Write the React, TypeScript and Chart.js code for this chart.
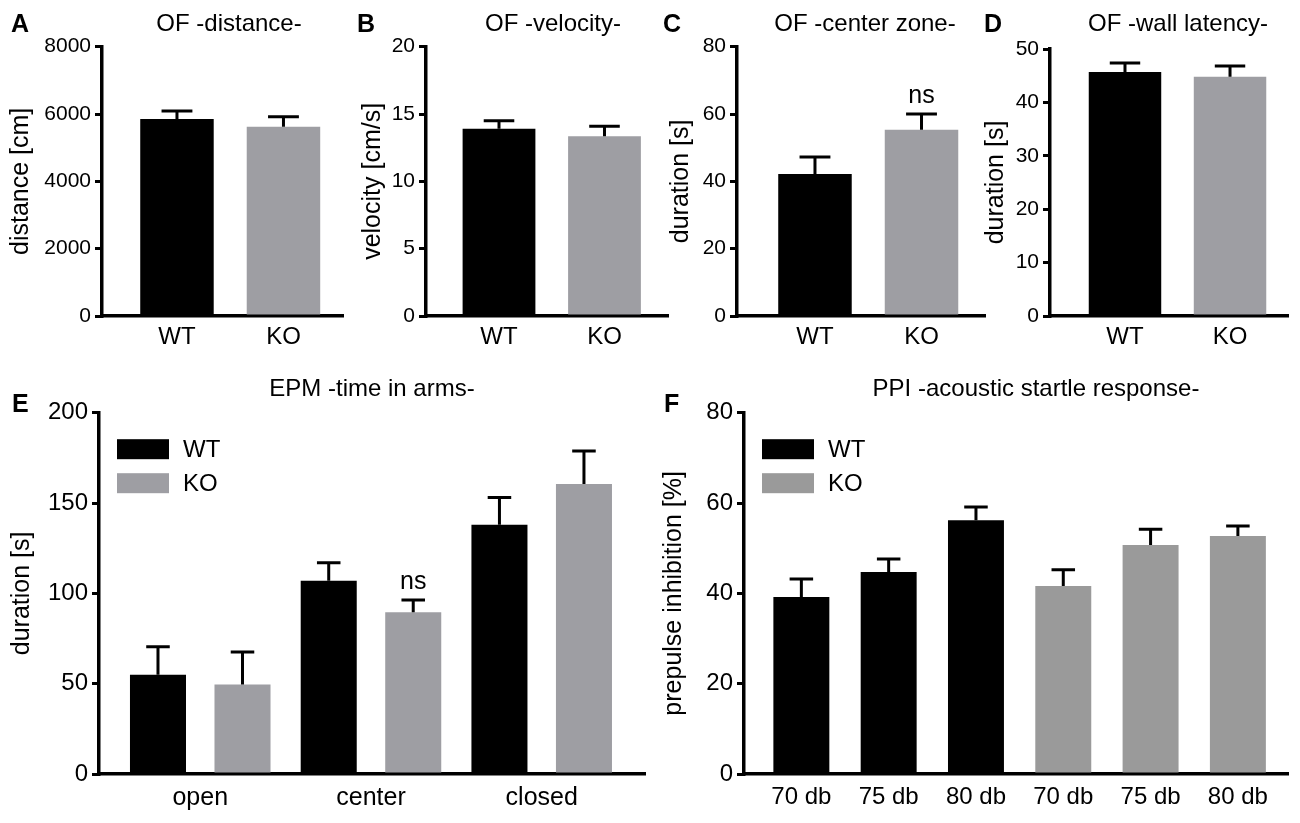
import { useEffect, useRef } from "react";
import { Chart, registerables } from "chart.js";

Chart.register(...registerables);

const FONT = "'Liberation Sans', Arial, Helvetica, sans-serif";
const BLACK = "#000000";
const GREY = "#9e9ea3";
const GREY_PPI = "#9a9a9a";

// open field, two genotypes
const genotypes = ["WT", "KO"];
const distanceMean = [5850, 5620];
const distanceSem = [240, 300];
const velocityMean = [13.9, 13.35];
const velocitySem = [0.6, 0.75];
const centerMean = [42.2, 55.3];
const centerSem = [5.0, 4.7];
const centerNotes = ["", "ns"];
const wallMean = [45.7, 44.8];
const wallSem = [1.7, 2.0];

// elevated plus maze
const arms = ["open", "center", "closed"];
const armsWT = [55, 107, 138];
const armsWTSem = [15.5, 10, 15];
const armsKO = [49.5, 89.5, 160.5];
const armsKOSem = [18, 6.8, 18.3];
const armsKONotes = ["", "ns", ""];

// prepulse inhibition
const prepulse = ["70 db", "75 db", "80 db", "70 db", "75 db", "80 db"];
const ppiWT = [39.2, 44.7, 56.2, null, null, null];
const ppiWTSem = [4.0, 2.9, 2.9, null, null, null];
const ppiKO = [null, null, null, 41.6, 50.7, 52.7];
const ppiKOSem = [null, null, null, 3.6, 3.5, 2.2];

// draws error bars, "ns" marks, panel letter, title and the inset legend
const decor = {
  id: "decor",
  afterDatasetsDraw(chart: any) {
    const ctx = chart.ctx;
    const y = chart.scales.y;
    ctx.save();
    chart.data.datasets.forEach((ds: any, di: number) => {
      const meta = chart.getDatasetMeta(di);
      meta.data.forEach((bar: any, i: number) => {
        const v = ds.data[i];
        const e = ds.errors ? ds.errors[i] : null;
        if (v == null || e == null) return;
        const yv = y.getPixelForValue(v);
        const ye = y.getPixelForValue(v + e);
        const cap = bar.width * 0.42;
        ctx.strokeStyle = BLACK;
        ctx.lineWidth = 3;
        ctx.beginPath();
        ctx.moveTo(bar.x, yv);
        ctx.lineTo(bar.x, ye);
        ctx.moveTo(bar.x - cap / 2, ye);
        ctx.lineTo(bar.x + cap / 2, ye);
        ctx.stroke();
        const note = ds.notes ? ds.notes[i] : "";
        if (note) {
          ctx.fillStyle = BLACK;
          ctx.font = `25px ${FONT}`;
          ctx.textAlign = "center";
          ctx.textBaseline = "alphabetic";
          ctx.fillText(note, bar.x, ye - 11);
        }
      });
    });
    ctx.restore();
  },
  afterDraw(chart: any, _args: any, opts: any) {
    const ctx = chart.ctx;
    const area = chart.chartArea;
    ctx.save();
    ctx.fillStyle = BLACK;
    ctx.textBaseline = "alphabetic";
    ctx.textAlign = "left";
    ctx.font = `bold 25px ${FONT}`;
    ctx.fillText(opts.letter, opts.letterX, opts.letterY);
    ctx.textAlign = "center";
    ctx.font = `24px ${FONT}`;
    ctx.fillText(opts.title, opts.titleX, opts.titleY);
    if (opts.legend) {
      chart.data.datasets.forEach((ds: any, i: number) => {
        const bx = area.left + 18;
        const by = area.top + 26.5 + i * 34;
        ctx.fillStyle = ds.backgroundColor;
        ctx.fillRect(bx, by, 52, 20);
        ctx.fillStyle = BLACK;
        ctx.font = `24px ${FONT}`;
        ctx.textAlign = "left";
        ctx.textBaseline = "middle";
        ctx.fillText(ds.label, bx + 66, by + 11);
      });
    }
    ctx.restore();
  },
};

type Spec = {
  letter: string;
  title: string;
  letterX: number;
  letterY: number;
  titleX: number;
  titleY: number;
  axisX: number;
  right: number;
  top: number;
  bottom: number;
  canvasTop: number;
  yTitleX: number;
  yTitle: string;
  yMax: number;
  yStep: number;
  yFont: number;
  xFont: number;
  xPad: number;
  xMin: number;
  xMax: number;
  categories: string[];
  datasets: any[];
  legend?: boolean;
};

function buildPanel(s: Spec) {
  const cx = s.yTitleX - 18;
  const cy = s.canvasTop;
  const yW = s.axisX - cx;
  const xH = 46;
  const box = { x: cx, y: cy, w: Math.round(s.right - cx + 8), h: Math.round(s.bottom - cy + xH) };
  const config: any = {
    type: "bar",
    data: {
      labels: s.categories.map((_, i) => i),
      datasets: s.datasets,
    },
    options: {
      responsive: false,
      animation: false,
      layout: { padding: { top: s.top - cy, right: 8, left: 0, bottom: 0 } },
      plugins: {
        legend: { display: false },
        tooltip: { enabled: false },
        decor: {
          letter: s.letter,
          title: s.title,
          letterX: s.letterX - cx,
          letterY: s.letterY - cy,
          titleX: s.titleX - cx,
          titleY: s.titleY - cy,
          legend: !!s.legend,
        },
      },
      scales: {
        x: {
          type: "linear",
          offset: false,
          min: s.xMin,
          max: s.xMax,
          afterBuildTicks: (sc: any) => {
            sc.ticks = s.categories.map((_, i) => ({ value: i }));
          },
          afterFit: (sc: any) => {
            sc.height = xH;
          },
          grid: { display: false, drawTicks: false },
          border: { display: true, color: BLACK, width: 3.5 },
          ticks: {
            autoSkip: false,
            maxRotation: 0,
            padding: s.xPad,
            color: BLACK,
            font: { family: FONT, size: s.xFont },
            callback: (v: any) => s.categories[v] ?? "",
          },
        },
        y: {
          min: 0,
          max: s.yMax,
          afterFit: (sc: any) => {
            sc.width = yW;
          },
          grid: {
            display: true,
            drawOnChartArea: false,
            drawTicks: true,
            tickLength: 7,
            color: BLACK,
            lineWidth: 3,
          },
          border: { display: true, color: BLACK, width: 3.5 },
          ticks: {
            stepSize: s.yStep,
            padding: 4,
            color: BLACK,
            font: { family: FONT, size: s.yFont },
            callback: (v: any) => String(v),
          },
          title: {
            display: true,
            text: s.yTitle,
            color: BLACK,
            font: { family: FONT, size: 25 },
            padding: { top: 3, bottom: 0 },
          },
        },
      },
    },
    plugins: [decor],
  };
  return { box, config };
}

function bars(label: string, data: any[], errors: any[], color: any, extra: any = {}) {
  return {
    label,
    data,
    errors,
    backgroundColor: color,
    borderWidth: 0,
    ...extra,
  };
}

function Panel({ spec }: { spec: Spec }) {
  const canvasRef = useRef<HTMLCanvasElement>(null);
  const chartRef = useRef<Chart | null>(null);
  const { box, config } = buildPanel(spec);

  useEffect(() => {
    if (canvasRef.current) {
      if (chartRef.current) chartRef.current.destroy();
      chartRef.current = new Chart(canvasRef.current, config);
    }
    return () => {
      if (chartRef.current) {
        chartRef.current.destroy();
        chartRef.current = null;
      }
    };
  }, []);

  return (
    <canvas
      ref={canvasRef}
      width={box.w}
      height={box.h}
      style={{ position: "absolute", left: box.x, top: box.y, width: box.w, height: box.h }}
    />
  );
}

const topRow = { top: 46.7, bottom: 316, canvasTop: 0, titleY: 31, letterY: 32, yFont: 21, xFont: 24, xPad: 7 };
const bottomRow = { top: 412.7, bottom: 774, canvasTop: 366, titleY: 396, letterY: 412, yFont: 24, xPad: 9 };

const single = { barPercentage: 0.69, categoryPercentage: 1 };

const specs: Spec[] = [
  {
    ...topRow,
    letter: "A", letterX: 11, title: "OF -distance-", titleX: 229,
    axisX: 102, right: 343, yTitleX: 21, yTitle: "distance [cm]",
    yMax: 8000, yStep: 2000, xMin: -0.704, xMax: 1.559, categories: genotypes,
    datasets: [bars("distance", distanceMean, distanceSem, [BLACK, GREY], single)],
  },
  {
    ...topRow,
    letter: "B", letterX: 357, title: "OF -velocity-", titleX: 553,
    axisX: 426, right: 668, yTitleX: 373, yTitle: "velocity [cm/s]",
    yMax: 20, yStep: 5, xMin: -0.692, xMax: 1.602, categories: genotypes,
    datasets: [bars("velocity", velocityMean, velocitySem, [BLACK, GREY], single)],
  },
  {
    ...topRow,
    letter: "C", letterX: 663, title: "OF -center zone-", titleX: 865,
    axisX: 737, right: 985, yTitleX: 681, yTitle: "duration [s]",
    yMax: 80, yStep: 20, xMin: -0.732, xMax: 1.596, categories: genotypes,
    datasets: [bars("center", centerMean, centerSem, [BLACK, GREY], { ...single, notes: centerNotes })],
  },
  {
    ...topRow,
    top: 49,
    letter: "D", letterX: 984, title: "OF -wall latency-", titleX: 1178,
    axisX: 1050, right: 1288, yTitleX: 996, yTitle: "duration [s]",
    yMax: 50, yStep: 10, xMin: -0.714, xMax: 1.552, categories: genotypes,
    datasets: [bars("wall", wallMean, wallSem, [BLACK, GREY], single)],
  },
  {
    ...bottomRow,
    xFont: 25,
    letter: "E", letterX: 12, title: "EPM -time in arms-", titleX: 372,
    axisX: 99, right: 645, yTitleX: 22, yTitle: "duration [s]",
    yMax: 200, yStep: 50, xMin: -0.593, xMax: 2.605, categories: arms,
    legend: true,
    datasets: [
      bars("WT", armsWT, armsWTSem, BLACK, { barPercentage: 0.663, categoryPercentage: 0.99 }),
      bars("KO", armsKO, armsKOSem, GREY, { barPercentage: 0.663, categoryPercentage: 0.99, notes: armsKONotes }),
    ],
  },
  {
    ...bottomRow,
    xFont: 24,
    letter: "F", letterX: 664, title: "PPI -acoustic startle response-", titleX: 1036,
    axisX: 744, right: 1288, yTitleX: 674, yTitle: "prepulse inhibition [%]",
    yMax: 80, yStep: 20, xMin: -0.657, xMax: 5.574, categories: prepulse,
    legend: true,
    datasets: [
      bars("WT", ppiWT, ppiWTSem, BLACK, { grouped: false, barPercentage: 0.641, categoryPercentage: 1 }),
      bars("KO", ppiKO, ppiKOSem, GREY_PPI, { grouped: false, barPercentage: 0.641, categoryPercentage: 1 }),
    ],
  },
];

export default function App() {
  return (
    <div style={{ position: "absolute", left: 0, top: 0, width: 1300, height: 823, background: "#ffffff", overflow: "hidden" }}>
      {specs.map((s) => (
        <Panel key={s.letter} spec={s} />
      ))}
    </div>
  );
}
